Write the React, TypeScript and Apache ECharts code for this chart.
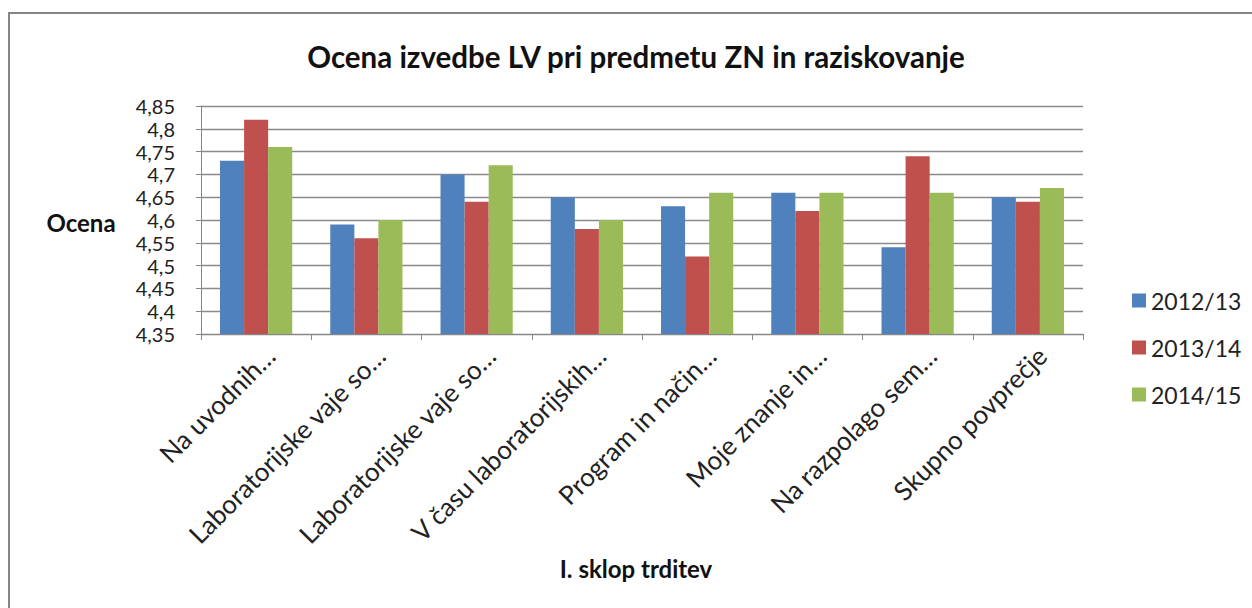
import React, { useEffect, useRef } from "react";
import * as echarts from "echarts";

const categories = [
  "Na uvodnih…",
  "Laboratorijske vaje so…",
  "Laboratorijske vaje so…",
  "V času laboratorijskih…",
  "Program in način…",
  "Moje znanje in…",
  "Na razpolago sem…",
  "Skupno povprečje",
];
const seriesNames = ["2012/13", "2013/14", "2014/15"];
const values2012 = [4.73, 4.59, 4.7, 4.65, 4.63, 4.66, 4.54, 4.65];
const values2013 = [4.82, 4.56, 4.64, 4.58, 4.52, 4.62, 4.74, 4.64];
const values2014 = [4.76, 4.6, 4.72, 4.6, 4.66, 4.66, 4.66, 4.67];
const colors = ["#4F81BD", "#C0504D", "#9BBB59"];
const title = "Ocena izvedbe LV pri predmetu ZN in raziskovanje";
const yName = "Ocena";
const xName = "I. sklop trditev";

const FONT = "Lato, 'Open Sans', sans-serif";

export default function App() {
  const ref = useRef<HTMLDivElement>(null);
  useEffect(() => {
    if (!ref.current) return;
    const chart = echarts.init(ref.current, undefined, { renderer: "svg" });
    const allValues = [values2012, values2013, values2014];
    chart.setOption({
      animation: false,
      color: colors,
      textStyle: { fontFamily: FONT },
      legend: {
        orient: "vertical",
        left: 1127,
        top: 284,
        itemWidth: 14,
        itemHeight: 14,
        itemGap: 24,
        icon: "rect",
        textStyle: { fontFamily: FONT, fontSize: 23, color: "#222", lineHeight: 23 },
        data: seriesNames,
      },
      grid: { left: 201, right: 169, top: 106, bottom: 274, containLabel: false },
      xAxis: {
        type: "category",
        data: categories,
        axisLine: { lineStyle: { color: "#868686", width: 1 } },
        axisTick: { show: true, length: 6, alignWithLabel: false, lineStyle: { color: "#868686" } },
        axisLabel: {
          rotate: 45,
          interval: 0,
          margin: 3,
          verticalAlign: "top",
          lineHeight: 40,
          fontFamily: FONT,
          fontSize: 26,
          color: "#222",
        },
      },
      yAxis: {
        type: "value",
        min: 4.35,
        max: 4.85,
        interval: 0.05,
        axisLine: { show: true, lineStyle: { color: "#868686", width: 1 } },
        axisTick: { show: true, length: 5, lineStyle: { color: "#868686" } },
        splitLine: { lineStyle: { color: "#8a8a8a", width: 1.3 } },
        axisLabel: {
          margin: 26,
          fontFamily: FONT,
          fontSize: 20,
          lineHeight: 20,
          color: "#222",
          showMinLabel: true,
          showMaxLabel: true,
          hideOverlap: false,
          formatter: (v: number) => String(+v.toFixed(2)).replace(".", ","),
        },
      },
      series: seriesNames.map((name, i) => ({
        name,
        type: "bar",
        data: allValues[i],
        barGap: "0%",
        barCategoryGap: "34.5%",
        itemStyle: { color: colors[i] },
      })),
      graphic: [
        {
          type: "rect",
          shape: { x: 9, y: 13, width: 1300, height: 700 },
          style: { fill: "none", stroke: "#868686", lineWidth: 2 },
          silent: true,
        },
        {
          type: "text",
          x: 636,
          y: 56,
          style: {
            text: title,
            fontFamily: FONT,
            fontSize: 29.5,
            fontWeight: "bold",
            fill: "#111",
            align: "center",
            verticalAlign: "middle",
          },
        },
        {
          type: "text",
          x: 81,
          y: 222,
          style: {
            text: yName,
            fontFamily: FONT,
            fontSize: 24,
            fontWeight: "bold",
            fill: "#111",
            align: "center",
            verticalAlign: "middle",
          },
        },
        {
          type: "text",
          x: 636,
          y: 568,
          style: {
            text: xName,
            fontFamily: FONT,
            fontSize: 24,
            fontWeight: "bold",
            fill: "#111",
            align: "center",
            verticalAlign: "middle",
          },
        },
      ],
    });
    return () => chart.dispose();
  }, []);
  return (
    <div
      ref={ref}
      style={{ position: "fixed", left: 0, top: 0, width: 1252, height: 608, background: "#fff" }}
    />
  );
}
